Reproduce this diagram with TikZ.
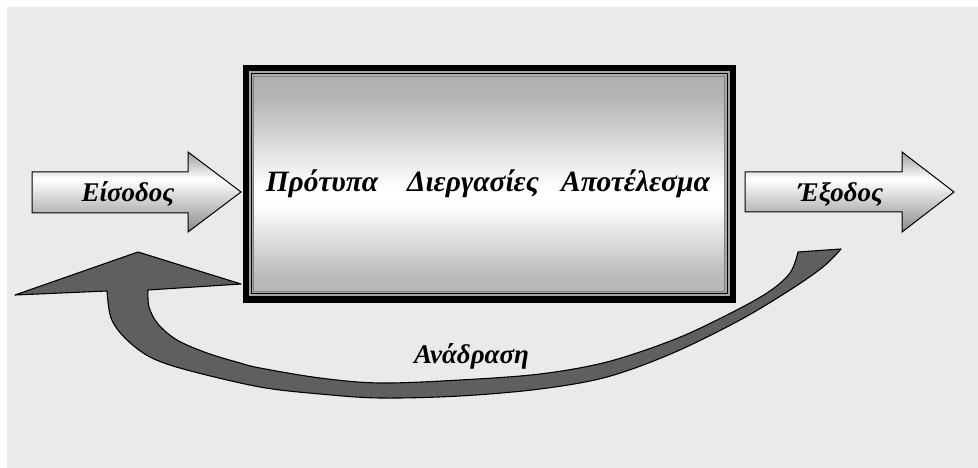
\documentclass[tikz,border=0pt]{standalone}
\usepackage{fontspec}
\setmainfont{Liberation Serif}
\definecolor{bggrey}{HTML}{EAEAEA}
\definecolor{fbgrey}{HTML}{5F5F5F}
\definecolor{bandgrey}{HTML}{A6A6A6}
\pgfdeclareverticalshading{arrowshade}{100bp}{color(0bp)=(black!46); color(25bp)=(black!46); color(58bp)=(white); color(75bp)=(black!38); color(100bp)=(black!38)}
\pgfdeclareverticalshading{boxshade}{100bp}{color(0bp)=(black!28); color(25bp)=(black!28); color(28.6bp)=(black!27); color(45bp)=(white); color(49bp)=(white); color(70bp)=(black!29); color(75bp)=(black!31); color(100bp)=(black!31)}
\tikzset{
  blockarrow/.style={shading=arrowshade, draw=black, line width=1pt},
  lbl/.style={font=\fontsize{27}{32}\selectfont\bfseries\itshape, inner sep=0pt, anchor=base},
  biglbl/.style={lbl, font=\fontsize{29.5}{34}\selectfont\bfseries\itshape},
  fbarrow/.style={fill=fbgrey, draw=black, line width=1.1pt, line join=round}
}
\begin{document}
\begin{tikzpicture}[x=1pt,y=-1pt]
\useasboundingbox (0,0) rectangle (978,468);
\fill[white] (0,0) rectangle (978,468);
\fill[bggrey] (7,7) rectangle (978,468);
% main box
\fill[black] (242.5,65) rectangle (736,303);
\fill[bandgrey] (248.5,71) rectangle (729.5,296);
\draw[black, line width=1pt] (251,73.5) rectangle (727,293.5);
\shadedraw[shading=boxshade, draw=black!50, line width=0.6pt] (253.5,76) rectangle (724.5,291);
% input / output arrows
\shadedraw[blockarrow] (32,172) -- (188,172) -- (188,152) -- (241,192) -- (188,232) -- (188,213) -- (32,213) -- cycle;
\shadedraw[blockarrow] (745,172) -- (902,172) -- (902,152) -- (954,192) -- (902,232) -- (902,212) -- (745,212) -- cycle;
% feedback arrow
\filldraw[fbarrow] (841,249) -- plot[smooth, tension=0.55] coordinates {(841,249) (823,267) (790,290) (740,320) (673,353) (607,377) (540,389) (460,396) (380,398) (320,394) (260,387) (187,370) (150,357) (125,338) (111,318) (107,291)}
  -- (15,295) -- (138,252) -- (241,284) -- (148,290)
  -- plot[smooth, tension=0.55] coordinates {(148,290) (149,307) (158,324) (177,340) (207,353) (240,363) (260,368) (320,378) (380,383) (460,380) (540,374) (607,362) (673,340) (723,317) (767,293) (790,273) (798,252)}
  -- cycle;
% texts
\node[lbl] (in) at (128,202) {Είσοδος};
\node[lbl] (out) at (840.5,202) {Έξοδος};
\node[biglbl] (t1) at (322,192) {Πρότυπα};
\node[biglbl] (t2) at (473,192) {Διεργασίες};
\node[biglbl] (t3) at (635.5,192) {Αποτέλεσμα};
\node[lbl] (fb) at (471.5,363) {Ανάδραση};
\end{tikzpicture}
\end{document}
